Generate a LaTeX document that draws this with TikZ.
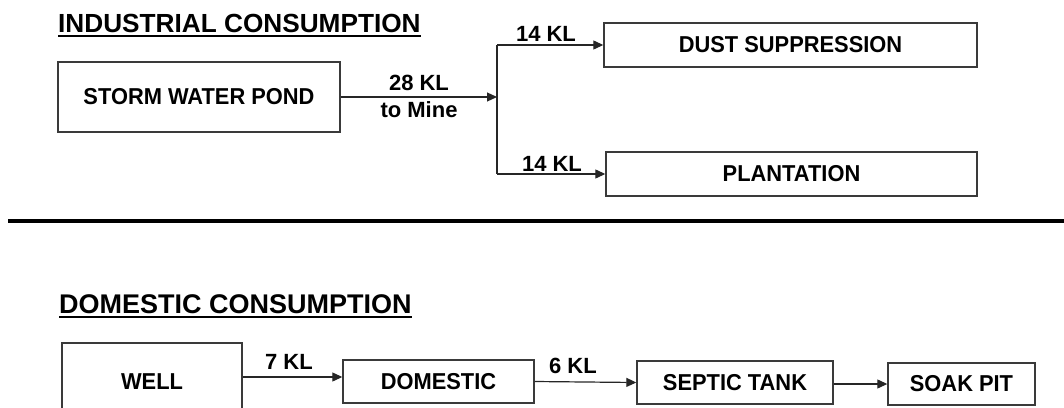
\documentclass[tikz,border=0pt]{standalone}
\usepackage{fontspec}
\setmainfont{Liberation Sans}
\newfontfamily\boxfont[FakeStretch=0.95]{Liberation Sans}
\usetikzlibrary{arrows.meta,calc}
\definecolor{boxline}{HTML}{3A3A3A}
\begin{document}
\begin{tikzpicture}[x=1pt,y=-1pt,
  every node/.style={font=\bfseries\fontsize{22}{27}\selectfont, inner sep=0pt},
  box/.style={draw=boxline, line width=1.4pt, minimum width=#1, align=center,
    font=\boxfont\bfseries\fontsize{23}{27}\selectfont},
  arr/.style={line width=1.2pt, draw=black!85, -{Triangle[length=10pt,width=9pt]}},
  flow/.style={line width=1.2pt, draw=black!85},
  title/.style={font=\bfseries\fontsize{26.2}{30}\selectfont, anchor=base west},
  lbl/.style={align=center}
]
\useasboundingbox (0,0) rectangle (1064,407);
\clip (0,0) rectangle (1064,407);

% ---------- industrial ----------
\node[title] (t1) at (58,32) {INDUSTRIAL CONSUMPTION};
\draw[line width=2pt] ([yshift=-4pt]t1.base west) -- ([yshift=-4pt]t1.base east);

\node[box=282pt, minimum height=70pt] (pond) at (199,97) {STORM WATER POND};
\node[box=373pt, minimum height=44pt] (dust) at (790.5,45) {DUST SUPPRESSION};
\node[box=371pt, minimum height=44pt] (plant) at (791.5,174) {PLANTATION};

\coordinate (split) at (497,97);
\coordinate (stop) at (497,45);
\coordinate (sbot) at (497,174);

\draw[arr] (pond.east) -- (split);
\draw[flow] (stop) -- (sbot);
\draw[arr] (stop) -- (dust.west);
\draw[arr] (sbot) -- (plant.west);

\node[lbl] (l28) at (419,96) {28 KL\\to Mine};
\node[lbl] (l14a) at (546,34) {14 KL};
\node[lbl] (l14b) at (552,163.5) {14 KL};

% ---------- separator ----------
\draw[line width=4pt] (8,221) -- (1064,221);

% ---------- domestic ----------
\node[title, font=\bfseries\fontsize{27}{30}\selectfont] (t2) at (59,313) {DOMESTIC CONSUMPTION};
\draw[line width=2pt] ([yshift=-4pt]t2.base west) -- ([yshift=-4pt]t2.base east);

\node[box=180pt, minimum height=77pt] (well) at (152,381.5) {WELL};
\node[box=191pt, minimum height=43pt] (dom) at (438.5,381.5) {DOMESTIC};
\node[box=196pt, minimum height=43pt] (septic) at (735,382.5) {SEPTIC TANK};
\node[box=147pt, minimum height=42pt] (soak) at (961.5,384) {SOAK PIT};

\draw[arr] ([yshift=4.5pt]well.east) -- ([yshift=4.5pt]dom.west);
\draw[arr] (dom.east) -- (septic.west);
\draw[arr] ([yshift=-1.5pt]septic.east) -- (soak.west);

\node[lbl] (l7) at (289,362) {7 KL};
\node[lbl] (l6) at (573,365.5) {6 KL};
\end{tikzpicture}
\end{document}
